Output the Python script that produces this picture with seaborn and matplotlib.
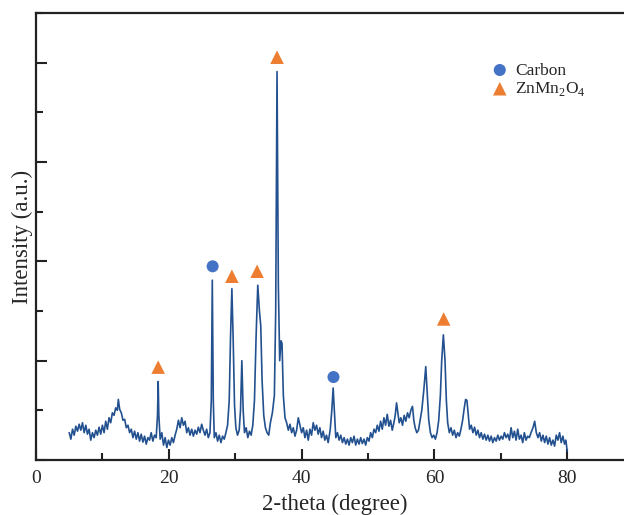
import matplotlib
matplotlib.use("Agg")
import matplotlib.pyplot as plt
import seaborn as sns
import pandas as pd
from matplotlib.ticker import MultipleLocator

two_theta = [
    5.0, 5.25, 5.5, 5.75, 6.0, 6.25, 6.5, 6.75, 7.0, 7.25, 7.5, 7.75, 8.0, 8.25, 8.5, 8.75,
    9.0, 9.25, 9.5, 9.75, 10.0, 10.25, 10.5, 10.75, 11.0, 11.25, 11.5, 11.75, 12.0, 12.25,
    12.4, 12.6, 12.85, 13.1, 13.35, 13.6, 13.85, 14.1, 14.35, 14.6, 14.85, 15.1, 15.35, 15.6,
    15.85, 16.1, 16.35, 16.6, 16.85, 17.1, 17.35, 17.6, 17.85, 18.1, 18.3, 18.4, 18.5, 18.7,
    18.95, 19.2, 19.45, 19.7, 19.95, 20.2, 20.45, 20.7, 20.95, 21.2, 21.45, 21.7, 21.95, 22.2,
    22.45, 22.7, 22.95, 23.2, 23.45, 23.7, 23.95, 24.2, 24.45, 24.7, 24.95, 25.2, 25.45, 25.7,
    25.95, 26.2, 26.4, 26.55, 26.7, 26.85, 27.1, 27.35, 27.6, 27.85, 28.1, 28.35, 28.6, 28.85,
    29.1, 29.3, 29.5, 29.7, 29.9, 30.1, 30.35, 30.6, 30.8, 31.0, 31.2, 31.4, 31.65, 31.9,
    32.15, 32.4, 32.65, 32.9, 33.15, 33.4, 33.65, 33.85, 34.05, 34.3, 34.55, 34.8, 35.05,
    35.3, 35.6, 35.9, 36.1, 36.3, 36.5, 36.7, 36.9, 37.05, 37.25, 37.5, 37.75, 38.0, 38.25,
    38.5, 38.75, 39.0, 39.25, 39.5, 39.75, 40.0, 40.25, 40.5, 40.75, 41.0, 41.25, 41.5, 41.75,
    42.0, 42.25, 42.5, 42.75, 43.0, 43.25, 43.5, 43.75, 44.0, 44.3, 44.55, 44.75, 44.95, 45.15,
    45.4, 45.65, 45.9, 46.15, 46.4, 46.65, 46.9, 47.15, 47.4, 47.65, 47.9, 48.15, 48.4, 48.65,
    48.9, 49.15, 49.4, 49.65, 49.9, 50.15, 50.4, 50.65, 50.9, 51.15, 51.4, 51.65, 51.9, 52.15,
    52.4, 52.65, 52.9, 53.15, 53.4, 53.65, 53.9, 54.1, 54.3, 54.5, 54.7, 54.95, 55.2, 55.45,
    55.7, 55.95, 56.2, 56.45, 56.7, 56.9, 57.1, 57.35, 57.6, 57.85, 58.1, 58.4, 58.7, 58.9,
    59.15, 59.4, 59.65, 59.9, 60.15, 60.4, 60.65, 60.9, 61.1, 61.35, 61.6, 61.8, 62.0, 62.25,
    62.5, 62.75, 63.0, 63.25, 63.5, 63.75, 64.0, 64.25, 64.5, 64.7, 64.9, 65.1, 65.3, 65.55,
    65.8, 66.05, 66.3, 66.55, 66.8, 67.05, 67.3, 67.55, 67.8, 68.05, 68.3, 68.55, 68.8, 69.05,
    69.3, 69.55, 69.8, 70.05, 70.3, 70.55, 70.8, 71.05, 71.3, 71.55, 71.8, 72.05, 72.3, 72.55,
    72.8, 73.05, 73.3, 73.55, 73.8, 74.05, 74.3, 74.55, 74.85, 75.1, 75.35, 75.6, 75.85, 76.1,
    76.35, 76.6, 76.85, 77.1, 77.35, 77.6, 77.85, 78.1, 78.35, 78.6, 78.85, 79.1, 79.35, 79.6,
    79.8, 80.0,
]
intensity = [
    0.55, 0.42, 0.62, 0.50, 0.68, 0.58, 0.72, 0.60, 0.75, 0.55, 0.70, 0.52, 0.62, 0.40, 0.55, 0.45,
    0.60, 0.50, 0.66, 0.52, 0.70, 0.55, 0.78, 0.62, 0.85, 0.75, 0.95, 0.90, 1.05, 1.00,
    1.22, 1.02, 0.95, 0.80, 0.82, 0.65, 0.70, 0.55, 0.62, 0.45, 0.58, 0.42, 0.55, 0.38,
    0.52, 0.36, 0.48, 0.32, 0.45, 0.40, 0.55, 0.38, 0.50, 0.45, 0.90, 1.58, 0.90, 0.42,
    0.55, 0.30, 0.45, 0.25, 0.40, 0.30, 0.45, 0.35, 0.50, 0.62, 0.80, 0.65, 0.85, 0.70,
    0.78, 0.55, 0.65, 0.50, 0.62, 0.48, 0.60, 0.52, 0.66, 0.55, 0.72, 0.60, 0.50, 0.62,
    0.45, 0.55, 1.20, 3.62, 1.20, 0.45, 0.55, 0.38, 0.50, 0.35, 0.48, 0.42, 0.55, 0.70,
    1.20, 2.50, 3.45, 2.40, 1.10, 0.65, 0.50, 0.60, 1.00, 2.00, 1.00, 0.55, 0.65, 0.45,
    0.58, 0.50, 0.70, 1.20, 2.50, 3.52, 3.00, 2.70, 1.60, 0.90, 0.65, 0.55, 0.50,
    0.75, 0.95, 1.30, 3.00, 7.82, 3.50, 2.00, 2.40, 2.35, 1.30, 0.85, 0.75, 0.60, 0.72,
    0.55, 0.65, 0.48, 0.60, 0.85, 0.70, 0.55, 0.65, 0.45, 0.60, 0.40, 0.62, 0.50, 0.75,
    0.60, 0.70, 0.52, 0.65, 0.45, 0.58, 0.40, 0.50, 0.35, 0.60, 1.00, 1.45, 0.95, 0.45,
    0.55, 0.40, 0.50, 0.35, 0.45, 0.32, 0.42, 0.30, 0.45, 0.35, 0.48, 0.30, 0.42, 0.32,
    0.45, 0.33, 0.42, 0.30, 0.45, 0.38, 0.55, 0.45, 0.62, 0.55, 0.70, 0.58, 0.78, 0.62,
    0.85, 0.70, 0.92, 0.68, 0.80, 0.60, 0.75, 0.90, 1.15, 0.95, 0.75, 0.85, 0.70, 0.90,
    0.78, 0.95, 0.85, 1.00, 1.08, 0.80, 0.65, 0.55, 0.60, 0.80, 1.00, 1.40, 1.88, 1.40,
    0.80, 0.55, 0.45, 0.50, 0.42, 0.55, 0.80, 1.30, 2.00, 2.52, 2.00, 1.20, 0.75, 0.55,
    0.65, 0.50, 0.60, 0.45, 0.55, 0.48, 0.62, 0.80, 1.05, 1.22, 1.20, 0.90, 0.62, 0.70,
    0.55, 0.66, 0.50, 0.60, 0.45, 0.55, 0.42, 0.52, 0.40, 0.50, 0.38, 0.48, 0.35, 0.45,
    0.38, 0.50, 0.40, 0.48, 0.42, 0.55, 0.45, 0.52, 0.40, 0.65, 0.45, 0.58, 0.40, 0.62,
    0.42, 0.50, 0.35, 0.55, 0.40, 0.48, 0.45, 0.55, 0.65, 0.78, 0.55, 0.45, 0.55, 0.38,
    0.50, 0.35, 0.48, 0.32, 0.45, 0.30, 0.40, 0.28, 0.50, 0.40, 0.55, 0.35, 0.48, 0.32,
    0.40, 0.18,
]

carbon_x = [26.6, 44.8]
carbon_y = [3.90, 1.67]
spinel_x = [18.4, 29.5, 33.3, 36.3, 61.4]
spinel_y = [1.87, 3.70, 3.80, 8.11, 2.84]

series_labels = ["Carbon", "ZnMn$_2$O$_4$"]
x_label = "2-theta (degree)"
y_label = "Intensity (a.u.)"

sns.set_style("ticks")
plt.rcParams["font.family"] = ["Liberation Serif", "DejaVu Serif"]
plt.rcParams["mathtext.fontset"] = "custom"
plt.rcParams["mathtext.rm"] = "Liberation Serif"

fig = plt.figure(figsize=(6.24, 5.15), dpi=100)
ax = fig.add_axes([36 / 624, 55 / 515, 597.6 / 624, 447 / 515])

df = pd.DataFrame({"x": two_theta, "y": intensity})
sns.lineplot(data=df, x="x", y="y", ax=ax, color="#235190", linewidth=1.2,
             sort=False, estimator=None)
sns.scatterplot(x=carbon_x, y=carbon_y, ax=ax, color="#4472C4", marker="o",
                s=75, edgecolor="none", label=series_labels[0])
sns.scatterplot(x=spinel_x, y=spinel_y, ax=ax, color="#ED7D31", marker="^",
                s=95, edgecolor="none", label=series_labels[1])

ax.set_xlim(0, 90)
ax.set_ylim(0, 9)
ax.xaxis.set_major_locator(MultipleLocator(20))
ax.xaxis.set_minor_locator(MultipleLocator(10))
ax.yaxis.set_major_locator(MultipleLocator(2))
ax.yaxis.set_minor_locator(MultipleLocator(1))
ax.set_yticklabels([])
ax.tick_params(axis="both", which="major", direction="in", length=8, width=1.5,
               labelsize=14, color="#222222")
ax.tick_params(axis="both", which="minor", direction="in", length=5, width=1.5,
               color="#222222")
ax.tick_params(axis="y", which="both", left=True, right=False, labelleft=False)
ax.tick_params(axis="x", which="both", top=False, pad=7)
for sp in ax.spines.values():
    sp.set_linewidth(1.6)
    sp.set_color("#222222")

ax.set_xlabel(x_label, fontsize=16.5, labelpad=5)
ax.set_ylabel(y_label, fontsize=16.5, labelpad=2)

leg = ax.legend(loc="upper left", bbox_to_anchor=(0.747, 0.905), frameon=False,
                fontsize=12.5, handletextpad=0.3, labelspacing=0.1,
                borderaxespad=0, handlelength=1.2, markerscale=1.0)

fig.savefig("out.png", dpi=100)
